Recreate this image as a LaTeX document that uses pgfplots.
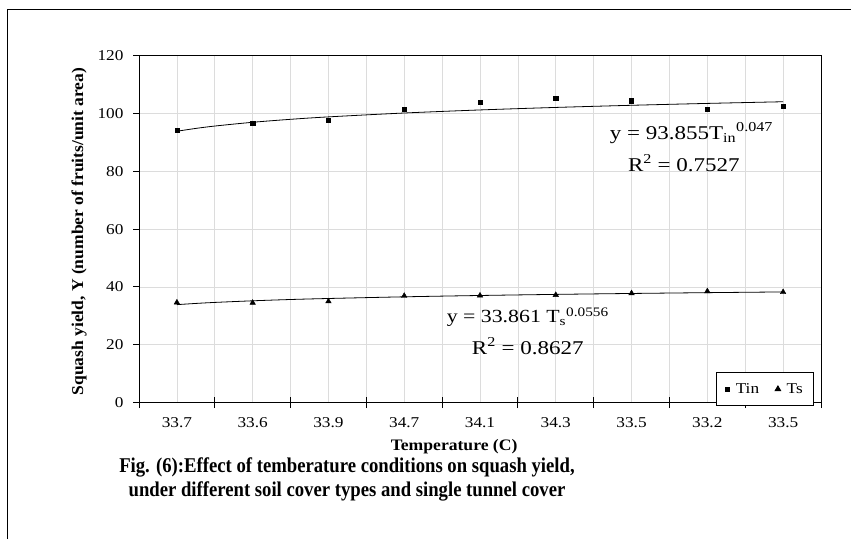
\documentclass[border=0pt]{standalone}
\usepackage{fontspec}
\setmainfont{Liberation Serif}
\newfontfamily\tickfont[FakeStretch=1.15]{Liberation Serif}
\newfontfamily\eqfont[FakeStretch=1.18]{Liberation Serif}
\newfontfamily\xlabfont[FakeStretch=1.1]{Liberation Serif}
\newfontfamily\ylabfont[FakeStretch=1.06]{Liberation Serif}
\newfontfamily\capfont[FakeStretch=0.89]{Liberation Serif}
\usepackage{pgfplots}
\pgfplotsset{compat=1.18}
\definecolor{gridgray}{RGB}{220,220,220}
\pgfplotstableread{
x y
1 94.3
2 96.6
3 97.6
4 101.4
5 104.0
6 105.4
7 104.4
8 101.4
9 102.5
}\tin
\pgfplotstableread{
x y
1 34.6
2 34.5
3 35.0
4 36.9
5 37.0
6 37.2
7 37.8
8 38.5
9 38.2
}\ts
\pgfplotstableread{
x y
1 93.86
1.25 94.84
1.5 95.66
2 96.96
2.5 97.99
3 98.83
4 100.17
5 101.23
6 102.10
7 102.84
8 103.49
9 104.07
}\tintrend
\pgfplotstableread{
x y
1 33.86
1.25 34.28
1.5 34.63
2 35.19
2.5 35.64
3 35.99
4 36.57
5 37.03
6 37.41
7 37.73
8 38.01
9 38.26
}\tstrend
\begin{document}
\begin{tikzpicture}[x=1pt,y=1pt]
\path[use as bounding box] (0,0) rectangle (851,539);
\draw[line width=0.9pt] (7.5,0) -- (7.5,529.5) -- (851,529.5);
\begin{axis}[
  at={(139pt,136.5pt)}, anchor=south west,
  scale only axis, width=682pt, height=346.8pt,
  xmin=0.5, xmax=9.5, ymin=0, ymax=120,
  axis line style={line width=0.9pt},
  xtick={1,...,9},
  xticklabels={33.7,33.6,33.9,34.7,34.1,34.3,33.5,33.2,33.5},
  minor xtick={0.5,1.5,...,9.5},
  ytick={0,20,...,120},
  xmajorgrids, xminorgrids, ymajorgrids,
  grid style={gridgray, line width=0.6pt},
  major x tick style={draw=none},
  minor x tick style={black, line width=0.9pt},
  minor tick length=11pt,
  tick align=center,
  ytick style={black, line width=0.9pt, xshift=-3pt},
  major tick length=6pt,
  xtick pos=bottom, ytick pos=left,
  tick label style={font=\tickfont\fontsize{15}{17}\selectfont},
  /pgf/number format/assume math mode=true,
  xticklabel style={yshift=-9pt},
  yticklabel style={xshift=-9pt},
  xlabel={\textbf{Temperature (C)}},
  xlabel style={at={(axis description cs:0.462,-0.127)}, anchor=center, font=\xlabfont\fontsize{16}{18}\selectfont},
  ylabel={\textbf{Squash yield, Y (number of fruits/unit area)}},
  ylabel style={at={(axis description cs:-0.088,0.493)}, anchor=center, font=\ylabfont\fontsize{16.5}{18}\selectfont},
  legend style={at={(axis description cs:0.99,-0.011)}, anchor=south east, draw=black, line width=0.9pt,
    font=\tickfont\fontsize{15}{17}\selectfont, legend columns=2, inner xsep=9pt, inner ysep=9pt,
    /tikz/every odd column/.append style={column sep=4pt},
    /tikz/every even column/.append style={column sep=14pt}},
  legend cell align=left,
  clip=false,
]
\addplot[only marks, mark=square*, mark size=2.1pt, black] table {\tin};
\addlegendentry{Tin}
\addplot[only marks, mark=triangle*, mark size=3.2pt, black] table {\ts};
\addlegendentry{Ts}
\addplot[black, line width=0.8pt, smooth, forget plot] table {\tintrend};
\addplot[black, line width=0.8pt, smooth, forget plot] table {\tstrend};
\node[font=\eqfont\fontsize{19.5}{21}\selectfont] at (axis cs:7.79,93.3) {y = 93.855T\textsubscript{in}\textsuperscript{0.047}};
\node[font=\eqfont\fontsize{19.5}{21}\selectfont] at (axis cs:7.69,82.9) {R\textsuperscript{2} = 0.7527};
\node[font=\eqfont\fontsize{18.5}{21}\selectfont] at (axis cs:5.63,29.5) {y = 33.861 T\textsubscript{s}\textsuperscript{0.0556}};
\node[font=\eqfont\fontsize{19.5}{21}\selectfont] at (axis cs:5.63,19.5) {R\textsuperscript{2} = 0.8627};
\end{axis}
\node[font=\capfont\bfseries\fontsize{21}{23}\selectfont] at (347,72) {Fig. (6):Effect of temberature conditions on squash yield,};
\node[font=\capfont\bfseries\fontsize{21}{23}\selectfont] at (347,47.5) {under different soil cover types and single tunnel cover};
\end{tikzpicture}
\end{document}
